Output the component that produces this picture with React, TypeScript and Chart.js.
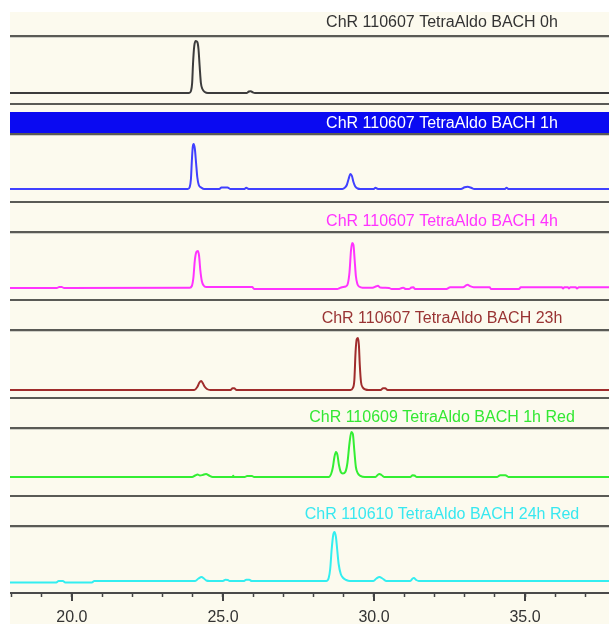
import React, { useEffect, useRef } from "react";
import { Chart, registerables } from "chart.js";

Chart.register(...registerables);

// ---------- data ----------
const X_MIN = 17.95;
const X_MAX = 37.78;
const xTicks = [18, 19, 20, 21, 22, 23, 24, 25, 26, 27, 28, 29, 30, 31, 32, 33, 34, 35, 36, 37];
const xLabelTicks = [20, 25, 30, 35];

const titles = [
  "ChR 110607 TetraAldo BACH 0h",
  "ChR 110607 TetraAldo BACH 1h",
  "ChR 110607 TetraAldo BACH 4h",
  "ChR 110607 TetraAldo BACH 23h",
  "ChR 110609 TetraAldo BACH 1h Red",
  "ChR 110610 TetraAldo BACH 24h Red",
];
const titleColors = ["#333333", "#ffffff", "#ff33ff", "#993333", "#33e833", "#38e8f0"];
const lineColors = ["#3c3c3c", "#4040ff", "#ff33ff", "#a02c2c", "#33ee33", "#33eef0"];
const yMins = [-10, -12, -11, -7, -18, -12];
const yMaxs = [56, 54, 55, 59, 48, 54];

// retention time (min) , relative intensity
const trace0h: number[][] = [
  [17.95, 0], [23.88, 0], [23.94, 2], [23.98, 10], [24.01, 30], [24.05, 47], [24.1, 52],
  [24.15, 51], [24.19, 44], [24.23, 26], [24.27, 10], [24.32, 4], [24.4, 1], [24.5, 0],
  [25.78, 0], [25.86, 1.5], [25.92, 1.8], [25.99, 0.6], [26.06, 0], [37.8, 0],
];
const trace1h: number[][] = [
  [17.95, 0], [23.84, 0], [23.9, 2], [23.94, 10], [23.97, 28], [24.0, 42], [24.03, 45],
  [24.07, 40], [24.11, 26], [24.15, 12], [24.2, 4], [24.28, 1.5], [24.38, 0],
  [24.88, 0], [24.95, 1.5], [25.15, 1.5], [25.25, 0],
  [25.7, 0], [25.77, 1.2], [25.85, 0],
  [28.95, 0], [29.04, 1.5], [29.1, 4], [29.16, 10], [29.22, 15], [29.27, 13], [29.32, 7],
  [29.38, 2.5], [29.46, 0.5], [29.55, 0],
  [29.98, 0], [30.05, 1.2], [30.13, 0],
  [32.88, 0], [33.0, 1.8], [33.1, 2.2], [33.22, 1.2], [33.32, 0],
  [34.32, 0], [34.39, 1.2], [34.46, 0], [37.8, 0],
];
const trace4h: number[][] = [
  [17.95, 0], [19.5, 0], [19.58, 1], [19.66, 1], [19.74, 0],
  [23.9, 0.3], [23.97, 2], [24.02, 10], [24.07, 28], [24.12, 36], [24.17, 37], [24.21, 32],
  [24.25, 18], [24.3, 7], [24.36, 2.5], [24.44, 1],
  [25.97, 1], [26.03, -1], [28.79, -1], [28.84, -0.5], [28.94, 0.8], [29.06, 1.5],
  [29.13, 4], [29.19, 16], [29.24, 38], [29.28, 45], [29.32, 43], [29.36, 28], [29.4, 12],
  [29.45, 4], [29.52, 1.2], [29.62, 0.3], [29.95, 0.3], [30.08, 1.8], [30.13, 2.2], [30.2, 0.5],
  [30.5, 0], [30.58, -1], [30.84, -1], [30.92, 0], [30.97, 0.3], [31.05, -1], [31.16, -1],
  [31.24, 0.5], [31.3, 0.8], [31.36, -1], [32.4, -1], [32.52, 0.7], [32.95, 0.8],
  [33.05, 2.6], [33.1, 3.2], [33.18, 1.8], [33.3, 0.8], [33.83, 0.7], [33.87, -1],
  [34.8, -1], [34.86, 0.7], [36.22, 0.7], [36.26, -0.5], [36.3, 0.7], [36.42, 0.7],
  [36.45, -0.5], [36.5, 0.7], [36.68, 0.7], [36.72, -0.5], [36.78, 0.8], [37.8, 0.8],
];
const trace23h: number[][] = [
  [17.95, 0], [24.05, 0], [24.15, 3], [24.22, 7.5], [24.28, 9], [24.33, 7], [24.39, 3.5],
  [24.47, 1], [24.59, 0],
  [25.25, 0], [25.32, 1.8], [25.37, 1.8], [25.45, 0],
  [29.22, 0], [29.3, 2], [29.35, 10], [29.39, 38], [29.43, 51], [29.47, 52], [29.5, 45],
  [29.53, 25], [29.57, 8], [29.63, 2.5], [29.72, 0.5], [29.82, 0],
  [30.22, 0], [30.3, 1.8], [30.37, 1.8], [30.45, 0], [37.8, 0],
];
const trace1hRed: number[][] = [
  [17.95, 0], [23.98, 0], [24.08, 1.5], [24.16, 2.5], [24.24, 1.5], [24.33, 2], [24.44, 3],
  [24.54, 1.5], [24.66, 0], [25.32, 0], [25.34, 1.2], [25.36, 0],
  [25.72, 0], [25.8, 1], [25.96, 1], [26.03, 0],
  [28.5, 0], [28.58, 3], [28.64, 10], [28.69, 20], [28.74, 25], [28.79, 22], [28.84, 12],
  [28.9, 5], [28.97, 3.5], [29.05, 5], [29.12, 14], [29.19, 34], [29.25, 45], [29.3, 43],
  [29.35, 26], [29.4, 10], [29.46, 4], [29.55, 1.2], [29.7, 0],
  [30.05, 0], [30.12, 2], [30.18, 3], [30.25, 2], [30.35, 0],
  [31.2, 0], [31.28, 1.8], [31.34, 1.5], [31.42, 0],
  [34.08, 0], [34.18, 1.8], [34.35, 1.8], [34.45, 0], [37.8, 0],
];
const trace24hRed: number[][] = [
  [17.95, -1.5], [19.48, -1.5], [19.56, 0], [19.7, 0], [19.78, -1.5], [20.66, -1.5], [20.74, 0],
  [24.08, 0], [24.19, 2.5], [24.29, 4], [24.37, 2.5], [24.45, 0.5], [24.56, 0],
  [25.0, 0], [25.08, 1.2], [25.16, 1], [25.22, 0],
  [25.7, 0], [25.77, 1.3], [25.87, 1.3], [25.95, 0],
  [28.42, 0], [28.5, 3], [28.55, 12], [28.6, 32], [28.65, 46], [28.69, 49], [28.74, 44],
  [28.78, 32], [28.83, 17], [28.9, 7], [28.98, 3], [29.08, 1], [29.2, 0],
  [29.98, 0], [30.08, 2.5], [30.18, 4], [30.28, 2.5], [30.4, 0],
  [31.2, 0], [31.28, 2.5], [31.32, 3], [31.4, 1], [31.48, 0], [37.8, 0],
];
const traces = [trace0h, trace1h, trace4h, trace23h, trace1hRed, trace24hRed];

// ---------- layout ----------
const CREAM = "#fcfaee";
const FONT = '"Liberation Sans", Arial, Helvetica, sans-serif';
const panelTops = [12, 105, 203, 301, 399, 497];
const panelHeights = [93, 98, 98, 98, 98, 128];
const titleHeights = [23, 28, 28, 28, 28, 28];
const titleYs = [10.5, 18.5, 18.5, 18, 18.5, 18];
const CANVAS_W = 599;
const TITLE_CX = 432;
const X_AXIS_H = 32;

function makeDecor(i: number, last: boolean) {
  return {
    id: "panelDecor" + i,
    beforeDraw(chart: any) {
      const { ctx, width, height, chartArea } = chart;
      ctx.save();
      ctx.fillStyle = CREAM;
      ctx.fillRect(0, 0, width, height);
      const lineY = chartArea.top - 2;
      if (i === 1) {
        ctx.fillStyle = "#0a0af2";
        ctx.fillRect(0, lineY - 21, width, 21);
      }
      ctx.fillStyle = "#5a5a55";
      ctx.fillRect(0, lineY, width, 2);
      ctx.fillStyle = "#cfcfc6";
      ctx.fillRect(0, lineY + 2, width, 1);
      if (!last) {
        ctx.fillStyle = "#5a5a55";
        ctx.fillRect(0, chartArea.bottom, width, 2);
      }
      ctx.font = "16px " + FONT;
      ctx.textAlign = "center";
      ctx.textBaseline = "middle";
      ctx.fillStyle = titleColors[i];
      ctx.fillText(titles[i], TITLE_CX, titleYs[i]);
      ctx.restore();
    },
    afterDraw(chart: any) {
      if (!last) return;
      const { ctx } = chart;
      const sx = chart.scales.x;
      ctx.save();
      ctx.fillStyle = "#444444";
      for (const v of xLabelTicks) {
        const px = Math.round(sx.getPixelForValue(v));
        ctx.fillRect(px - 1, sx.top, 2, 8);
      }
      ctx.restore();
    },
  };
}

function TracePanel({ idx }: { idx: number }) {
  const ref = useRef<HTMLCanvasElement>(null);
  useEffect(() => {
    const last = idx === 5;
    const chart = new Chart(ref.current as HTMLCanvasElement, {
      type: "line",
      data: {
        datasets: [
          {
            data: traces[idx].map(([x, y]) => ({ x, y })),
            borderColor: lineColors[idx],
            borderWidth: 2,
            pointRadius: 0,
            fill: false,
            cubicInterpolationMode: "monotone",
          } as any,
        ],
      },
      options: {
        responsive: false,
        animation: false,
        devicePixelRatio: 1,
        layout: { padding: { top: titleHeights[idx] + 2, bottom: last ? 0 : 2, left: 0, right: 0 } },
        plugins: {
          legend: { display: false },
          tooltip: { enabled: false },
          title: { display: false },
        },
        scales: {
          x: {
            type: "linear",
            min: X_MIN,
            max: X_MAX,
            display: last,
            afterBuildTicks: (s: any) => {
              s.ticks = xTicks.map((v) => ({ value: v }));
            },
            afterFit: (s: any) => {
              if (!last) return;
              s.paddingLeft = 0;
              s.paddingRight = 0;
              s.paddingTop = 0;
              s.paddingBottom = 0;
              s.height = X_AXIS_H;
            },
            ticks: {
              autoSkip: false,
              maxRotation: 0,
              minRotation: 0,
              padding: 13,
              color: "#333333",
              font: { family: FONT, size: 16, lineHeight: 1 },
              callback: (v: any) => (xLabelTicks.includes(Number(v)) ? Number(v).toFixed(1) : ""),
            },
            grid: {
              display: true,
              drawOnChartArea: false,
              drawTicks: true,
              tickLength: 4,
              tickWidth: 1.5,
              tickColor: "#444444",
            },
            border: { display: true, color: "#4a4a4a", width: 2 },
          },
          y: {
            type: "linear",
            min: yMins[idx],
            max: yMaxs[idx],
            display: false,
          },
        },
      } as any,
      plugins: [makeDecor(idx, last)],
    });
    return () => chart.destroy();
  }, [idx]);
  return (
    <canvas
      ref={ref}
      width={CANVAS_W}
      height={panelHeights[idx]}
      style={{
        position: "absolute",
        left: 10,
        top: panelTops[idx],
        width: CANVAS_W,
        height: panelHeights[idx],
        display: "block",
      }}
    />
  );
}

export default function App() {
  return (
    <div
      style={{
        position: "fixed",
        left: 0,
        top: 0,
        width: 609,
        height: 624,
        background: "#ffffff",
        overflow: "hidden",
      }}
    >
      <div style={{ position: "absolute", left: 10, top: 12, width: 599, height: 612, background: CREAM }} />
      {[0, 1, 2, 3, 4, 5].map((i) => (
        <TracePanel key={i} idx={i} />
      ))}
    </div>
  );
}
